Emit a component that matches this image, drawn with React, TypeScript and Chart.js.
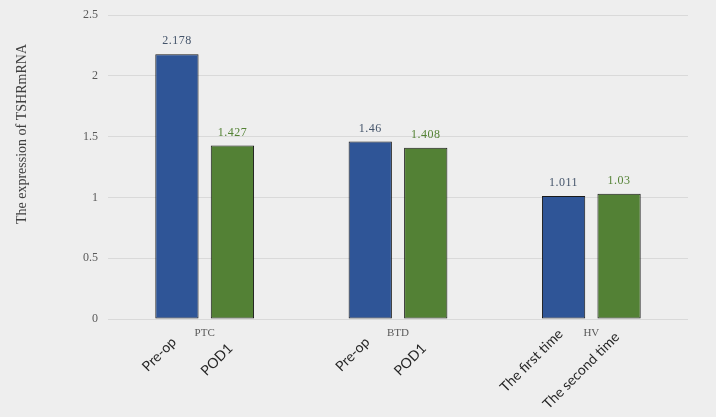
import React, { useEffect, useRef } from "react";
import { Chart, registerables } from "chart.js";

Chart.register(...registerables);

const groups = ["PTC", "BTD", "HV"];
const firstLabels = ["Pre-op", "Pre-op", "The first time"];
const secondLabels = ["POD1", "POD1", "The second time"];
const firstValues = [2.178, 1.46, 1.011];
const secondValues = [1.427, 1.408, 1.03];
const yMin = 0;
const yMax = 2.5;
const yStep = 0.5;
const yTitle = "The expression of TSHRmRNA";

const BG = "#eeeeee";
const BLUE = "#2f5597";
const GREEN = "#538135";

const labelsPlugin = {
  id: "barLabels",
  afterDatasetsDraw(chart: any) {
    const ctx = chart.ctx;
    const area = chart.chartArea;
    chart.data.datasets.forEach((ds: any, di: number) => {
      const meta = chart.getDatasetMeta(di);
      const catLabels = di === 0 ? firstLabels : secondLabels;
      meta.data.forEach((bar: any, i: number) => {
        ctx.save();
        ctx.font = "12px 'Liberation Serif'";
        (ctx as any).letterSpacing = "0.5px";
        ctx.fillStyle = di === 0 ? "#44546a" : "#548235";
        ctx.textAlign = "center";
        ctx.textBaseline = "bottom";
        ctx.fillText(String(ds.data[i]), bar.x, bar.y - 7);
        ctx.restore();

        ctx.save();
        ctx.font = "14px Lato";
        const w = ctx.measureText(catLabels[i]).width;
        const dx = di === 0 ? -3 : -2;
        const dy = di === 0 ? 29 - 0.2 * w : 34 - 0.18 * w;
        ctx.translate(bar.x + dx, area.bottom + dy);
        ctx.rotate(-Math.PI / 4);
        ctx.fillStyle = "#262626";
        ctx.textAlign = "right";
        ctx.textBaseline = "middle";
        ctx.fillText(catLabels[i], 0, 0);
        ctx.restore();
      });
    });
    ctx.save();
    ctx.translate(22, 134);
    ctx.rotate(-Math.PI / 2);
    ctx.font = "14px 'Liberation Serif'";
    ctx.fillStyle = "#404040";
    ctx.textAlign = "center";
    ctx.textBaseline = "middle";
    ctx.fillText(yTitle, 0, 0);
    ctx.restore();
  },
};

export default function App() {
  const ref = useRef<HTMLCanvasElement | null>(null);
  useEffect(() => {
    document.body.style.margin = "0";
    document.body.style.background = BG;
    const canvas = ref.current!;
    const common = {
      borderColor: "#1a1a1a",
      borderWidth: 1,
      borderSkipped: false,
      barPercentage: 0.78,
      categoryPercentage: 0.574,
    };
    const chart = new Chart(canvas, {
      type: "bar",
      data: {
        labels: groups,
        datasets: [
          { data: firstValues, backgroundColor: BLUE, ...common },
          { data: secondValues, backgroundColor: GREEN, ...common },
        ],
      },
      options: {
        responsive: false,
        animation: false,
        devicePixelRatio: 1,
        layout: { padding: { left: 0, right: 28, top: 15, bottom: 0 } },
        plugins: {
          legend: { display: false },
          tooltip: { enabled: false },
        },
        scales: {
          x: {
            grid: { display: false, drawTicks: false },
            border: { display: false },
            ticks: {
              font: { family: "'Liberation Serif'", size: 11 },
              color: "#595959",
              padding: 8,
              maxRotation: 0,
            },
            afterFit: (s: any) => {
              s.height = 98;
              s.paddingLeft = 0;
              s.paddingRight = 0;
            },
          },
          y: {
            min: yMin,
            max: yMax,
            ticks: {
              stepSize: yStep,
              font: { family: "'Liberation Serif'", size: 12 },
              color: "#595959",
              padding: 10,
              callback: (v: any) => String(v),
            },
            grid: { color: "#d9d9d9", drawTicks: false },
            border: { display: false },
            afterFit: (s: any) => {
              s.width = 108;
              s.paddingTop = 0;
              s.paddingBottom = 0;
            },
          },
        },
      },
      plugins: [labelsPlugin],
    } as any);
    return () => chart.destroy();
  }, []);
  return (
    <div style={{ position: "fixed", left: 0, top: 0, width: 716, height: 417, background: BG }}>
      <canvas ref={ref} width={716} height={417} style={{ width: 716, height: 417, display: "block" }} />
    </div>
  );
}
